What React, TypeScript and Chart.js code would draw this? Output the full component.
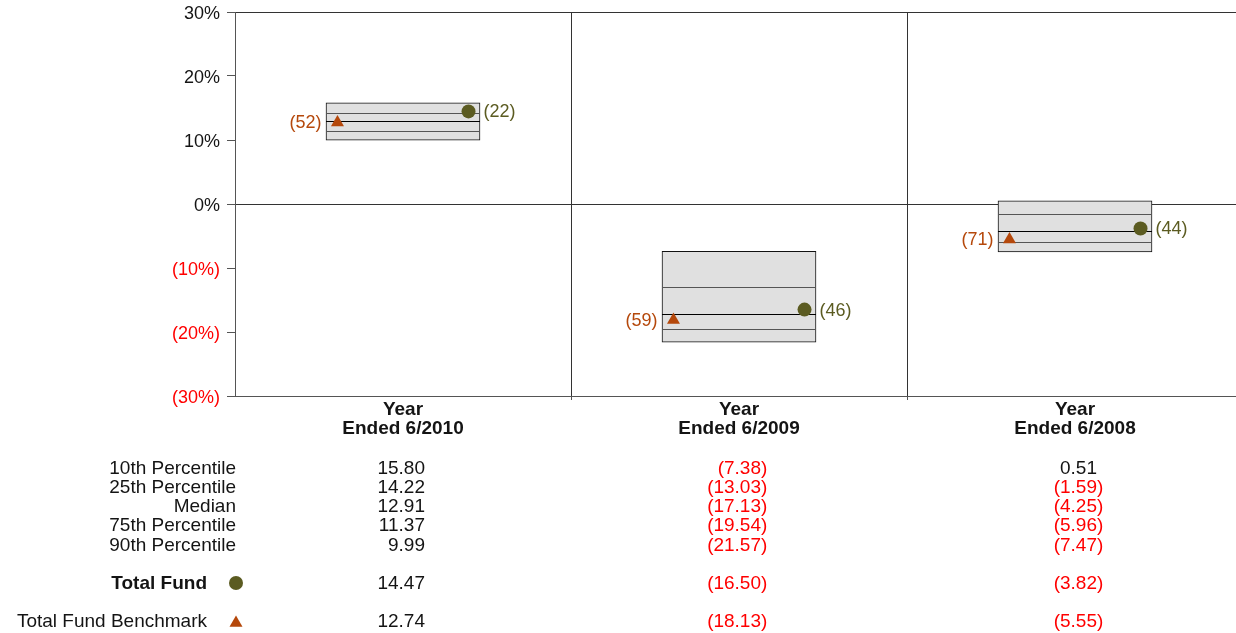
import React, { useEffect, useRef } from 'react';
import { Chart, registerables } from 'chart.js';

Chart.register(...registerables);

const categories = [
  ['Year', 'Ended 6/2010'],
  ['Year', 'Ended 6/2009'],
  ['Year', 'Ended 6/2008'],
];
const p10 = [15.8, -7.38, 0.51];
const p25 = [14.22, -13.03, -1.59];
const median = [12.91, -17.13, -4.25];
const p75 = [11.37, -19.54, -5.96];
const p90 = [9.99, -21.57, -7.47];
const totalFund = [14.47, -16.5, -3.82];
const benchmark = [12.74, -18.13, -5.55];
const fundRank = [22, 46, 44];
const benchRank = [52, 59, 71];
const yTicks = [-30, -20, -10, 0, 10, 20, 30];
const rowLabels = ['10th Percentile', '25th Percentile', 'Median', '75th Percentile', '90th Percentile'];

const FONT = '"Liberation Sans", Arial, Helvetica, sans-serif';
const OLIVE = '#5b5b21';
const BROWN = '#b5480b';
const RED = '#ff0000';
const TXT = '#141414';
const MARK_OFF = 0.195;

function fmt(v: number) {
  return v < 0 ? '(' + Math.abs(v).toFixed(2) + ')' : v.toFixed(2);
}

function drawTri(ctx: CanvasRenderingContext2D, x: number, y: number, r: number) {
  ctx.beginPath();
  let rad = 0;
  ctx.moveTo(x + Math.sin(rad) * r, y - Math.cos(rad) * r);
  rad += (2 * Math.PI) / 3;
  ctx.lineTo(x + Math.sin(rad) * r, y - Math.cos(rad) * r);
  rad += (2 * Math.PI) / 3;
  ctx.lineTo(x + Math.sin(rad) * r, y - Math.cos(rad) * r);
  ctx.closePath();
  ctx.fill();
}

const extrasPlugin = {
  id: 'extras',
  afterDatasetDraw(chart: any, args: any) {
    if (args.index !== 0) return;
    const ctx = chart.ctx;
    const y = chart.scales.y;
    const meta = chart.getDatasetMeta(0);
    ctx.save();
    meta.data.forEach((bar: any, i: number) => {
      const { x, width } = bar.getProps(['x', 'width'], true);
      const l = x - width / 2;
      const r = x + width / 2;
      const lines: [number, string][] = [
        [p25[i], '#555'],
        [median[i], '#000'],
        [p75[i], '#555'],
      ];
      lines.forEach(([v, c]) => {
        const py = Math.round(y.getPixelForValue(v)) + 0.5;
        ctx.beginPath();
        ctx.moveTo(l, py);
        ctx.lineTo(r, py);
        ctx.strokeStyle = c;
        ctx.lineWidth = 1;
        ctx.stroke();
      });
    });
    ctx.restore();
  },
  afterDatasetsDraw(chart: any) {
    const ctx = chart.ctx;
    ctx.save();
    ctx.font = '18px ' + FONT;
    ctx.textBaseline = 'middle';
    chart.getDatasetMeta(1).data.forEach((pt: any, i: number) => {
      ctx.fillStyle = OLIVE;
      ctx.textAlign = 'left';
      ctx.fillText('(' + fundRank[i] + ')', pt.x + 15, pt.y + 1);
    });
    chart.getDatasetMeta(2).data.forEach((pt: any, i: number) => {
      ctx.fillStyle = BROWN;
      ctx.textAlign = 'right';
      ctx.fillText('(' + benchRank[i] + ')', pt.x - 16, pt.y + 1);
    });
    ctx.restore();
  },
  afterDraw(chart: any) {
    const ctx = chart.ctx;
    const xs = chart.scales.x;
    const area = chart.chartArea;
    const b = area.bottom;
    ctx.save();
    ctx.textBaseline = 'middle';
    ctx.font = '19px ' + FONT;
    const parenW = ctx.measureText(')').width;
    const rowY = [73, 92, 111, 130, 150].map((d) => b + d);
    const fundY = b + 188;
    const benchY = b + 226;
    const pct = [p10, p25, median, p75, p90];

    const drawVal = (v: number, cx: number, yy: number) => {
      ctx.font = '19px ' + FONT;
      ctx.textAlign = 'right';
      ctx.fillStyle = v < 0 ? RED : TXT;
      ctx.fillText(fmt(v), cx + 22 + (v < 0 ? parenW : 0), yy);
    };

    rowLabels.forEach((lab, r) => {
      ctx.font = '19px ' + FONT;
      ctx.textAlign = 'right';
      ctx.fillStyle = TXT;
      ctx.fillText(lab, area.left + 1, rowY[r]);
      categories.forEach((_, i) => drawVal(pct[r][i], xs.getPixelForValue(i), rowY[r]));
    });

    ctx.font = 'bold 19px ' + FONT;
    ctx.textAlign = 'right';
    ctx.fillStyle = TXT;
    ctx.fillText('Total Fund', area.left - 28, fundY);
    ctx.fillStyle = OLIVE;
    ctx.beginPath();
    ctx.arc(area.left + 1, fundY - 1, 7, 0, Math.PI * 2);
    ctx.fill();
    categories.forEach((_, i) => drawVal(totalFund[i], xs.getPixelForValue(i), fundY));

    ctx.font = '19px ' + FONT;
    ctx.textAlign = 'right';
    ctx.fillStyle = TXT;
    ctx.fillText('Total Fund Benchmark', area.left - 28, benchY);
    ctx.fillStyle = BROWN;
    drawTri(ctx, area.left + 1, benchY + 1, 7.5);
    categories.forEach((_, i) => drawVal(benchmark[i], xs.getPixelForValue(i), benchY));
    ctx.restore();
  },
};

export default function App() {
  const ref = useRef<HTMLCanvasElement | null>(null);
  useEffect(() => {
    if (!ref.current) return;
    const chart = new Chart(ref.current, {
      type: 'bar',
      data: {
        datasets: [
          {
            type: 'bar',
            label: 'Range',
            data: categories.map((_, i) => ({ x: i, y: [p90[i], p10[i]] })) as any,
            backgroundColor: '#e0e0e0',
            borderColor: '#111',
            borderWidth: 1,
            borderSkipped: false,
            barThickness: 154,
            order: 3,
          } as any,
          {
            type: 'scatter',
            label: 'Total Fund',
            data: totalFund.map((v, i) => ({ x: i + MARK_OFF, y: v })),
            pointStyle: 'circle',
            pointRadius: 7,
            backgroundColor: OLIVE,
            borderColor: OLIVE,
            borderWidth: 0,
            order: 1,
          } as any,
          {
            type: 'scatter',
            label: 'Total Fund Benchmark',
            data: benchmark.map((v, i) => ({ x: i - MARK_OFF, y: v })),
            pointStyle: 'triangle',
            pointRadius: 7.5,
            backgroundColor: BROWN,
            borderColor: BROWN,
            borderWidth: 0,
            order: 2,
          } as any,
        ],
      },
      options: {
        responsive: false,
        animation: false,
        layout: { autoPadding: false, padding: { top: 12, left: 0, right: 0, bottom: 0 } },
        plugins: { legend: { display: false }, tooltip: { enabled: false } },
        events: [],
        scales: {
          x: {
            type: 'linear',
            offset: false,
            min: -0.5,
            max: -0.5 + 1001 / 336,
            afterBuildTicks: (s: any) => {
              s.ticks = [-0.5, 0, 0.5, 1, 1.5, 2].map((v) => ({ value: v }));
            },
            afterFit: (s: any) => {
              s.height = 237;
              s.paddingLeft = 0;
              s.paddingRight = 0;
            },
            ticks: {
              autoSkip: false,
              maxRotation: 0,
              minRotation: 0,
              padding: 0,
              color: TXT,
              font: { family: FONT, size: 19, weight: 'bold', lineHeight: 1 },
              callback: (v: any) => (Number.isInteger(v) && v >= 0 ? categories[v] : ''),
            },
            grid: {
              offset: false,
              color: (c: any) =>
                c.tick && (c.tick.value === 0.5 || c.tick.value === 1.5) ? '#333' : 'rgba(0,0,0,0)',
              tickColor: (c: any) =>
                c.tick && (c.tick.value === 0.5 || c.tick.value === 1.5) ? '#555' : 'rgba(0,0,0,0)',
              tickLength: 4,
              lineWidth: 1,
            },
            border: { color: '#555', width: 1 },
          },
          y: {
            type: 'linear',
            min: -30,
            max: 30,
            afterBuildTicks: (s: any) => {
              s.ticks = yTicks.map((v) => ({ value: v }));
            },
            afterFit: (s: any) => {
              s.width = 235;
              s.paddingTop = 0;
              s.paddingBottom = 0;
            },
            ticks: {
              padding: 7,
              labelOffset: 2,
              font: { family: FONT, size: 18 },
              color: (c: any) => (c.tick && c.tick.value < 0 ? RED : TXT),
              callback: (v: any) => (v < 0 ? '(' + Math.abs(v) + '%)' : v + '%'),
            },
            grid: {
              color: (c: any) =>
                c.tick && (c.tick.value === 0 || c.tick.value === 30) ? '#333' : 'rgba(0,0,0,0)',
              tickColor: '#555',
              tickLength: 8,
              lineWidth: 1,
            },
            border: { color: '#555', width: 1 },
          },
        },
      } as any,
      plugins: [extrasPlugin],
    });
    return () => chart.destroy();
  }, []);

  return (
    <div style={{ position: 'fixed', left: 0, top: 0, width: 1236, height: 633, background: '#fff' }}>
      <canvas ref={ref} width={1236} height={633} style={{ display: 'block' }} />
    </div>
  );
}
